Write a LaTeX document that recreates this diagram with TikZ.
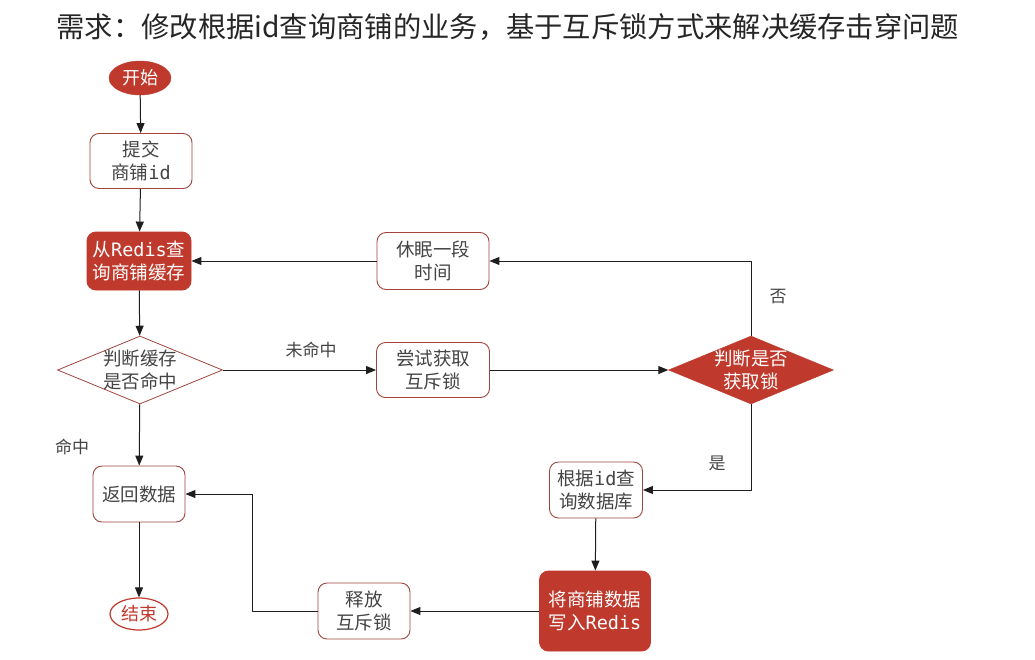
\documentclass[tikz,border=0pt]{standalone}
\usepackage{fontspec}
\setmainfont{Noto Sans CJK SC}
\newfontfamily\mono{DejaVu Sans Mono}
\usetikzlibrary{shapes.geometric,arrows.meta}
\definecolor{rd}{RGB}{191,58,45}
\definecolor{bd}{RGB}{160,70,62}
\definecolor{tx}{RGB}{68,68,68}
\definecolor{ln}{RGB}{30,30,30}
\tikzset{
  x=1pt,y=-1pt,
  nf/.style={font=\fontsize{18.5}{23}\selectfont, align=center},
  wbox/.style={nf, draw=bd, line width=0.9pt, rounded corners=9pt, fill=white, text=tx, inner sep=0pt},
  rbox/.style={nf, draw=rd, line width=0.9pt, rounded corners=9pt, fill=rd, text=white, inner sep=0pt},
  wdia/.style={diamond, draw=bd, line width=0.8pt, fill=white, inner sep=0pt},
  rdia/.style={diamond, draw=rd, fill=rd, inner sep=0pt},
  conn/.style={draw=ln, line width=1pt, -{Triangle[length=10pt,width=8pt]}},
  lab/.style={font=\fontsize{17}{20}\selectfont, text=tx},
}
\begin{document}
\begin{tikzpicture}
\useasboundingbox (0,0) rectangle (1035,659);
\fill[white] (0,0) rectangle (1035,659);
\node[font=\fontsize{28.3}{32}\selectfont, text=black!85, anchor=west] (title) at (53,27) {需求：修改根据id查询商铺的业务，基于互斥锁方式来解决缓存击穿问题};

\node[ellipse, fill=rd, draw=rd, text=white, minimum width=62pt, minimum height=34pt, inner sep=0pt, font=\fontsize{18}{20}\selectfont] (start) at (140,78) {开始};
\node[wbox, minimum width=102pt, minimum height=55pt] (submit) at (141,161) {提交\\商铺{\mono id}};
\node[rbox, minimum width=104pt, minimum height=58pt] (query) at (139,261) {从{\mono Redis}查\\询商铺缓存};
\node[wdia, minimum width=165pt, minimum height=68pt, label={[nf, text=tx]center:判断缓存\\是否命中}] (judge1) at (140,370) {};
\node[wbox, minimum width=92pt, minimum height=56pt] (ret) at (139,494) {返回数据};
\node[ellipse, draw=rd, line width=1.2pt, fill=white, text=rd, minimum width=58pt, minimum height=32pt, inner sep=0pt, font=\fontsize{18}{20}\selectfont] (end) at (139,614) {结束};

\node[wbox, minimum width=112pt, minimum height=57pt] (sleep) at (433,261) {休眠一段\\时间};
\node[wbox, minimum width=113pt, minimum height=55pt] (try) at (433,370) {尝试获取\\互斥锁};
\node[rdia, minimum width=165pt, minimum height=68pt, label={[nf, text=white]center:判断是否\\获取锁}] (judge2) at (751,370) {};
\node[wbox, minimum width=93pt, minimum height=56pt] (dbq) at (596,490) {根据{\mono id}查\\询数据库};
\node[rbox, minimum width=111pt, minimum height=80pt] (write) at (595,611) {将商铺数据\\写入{\mono Redis}};
\node[wbox, minimum width=92pt, minimum height=56pt] (rel) at (364,611) {释放\\互斥锁};

\coordinate (turn) at (252,611);

\draw[conn] (start) -- (submit);
\draw[conn] (submit) -- (query);
\draw[conn] (query) -- (judge1);
\draw[conn] (judge1) -- (ret);
\draw[conn] (ret) -- (end);
\draw[conn] (judge1.east) -- (try.west);
\draw[conn] (try.east) -- (judge2.west);
\draw[conn] (judge2.north) |- (sleep.east);
\draw[conn] (sleep.west) -- (query.east);
\draw[conn] (judge2.south) |- (dbq.east);
\draw[conn] (dbq) -- (write);
\draw[conn] (write.west) -- (rel.east);
\draw[conn] (rel.west) -- (turn) |- (ret.east);

\node[lab] (l1) at (72,447) {命中};
\node[lab] (l2) at (311,350) {未命中};
\node[lab] (l3) at (778,297) {否};
\node[lab] (l4) at (717,463) {是};
\end{tikzpicture}
\end{document}
